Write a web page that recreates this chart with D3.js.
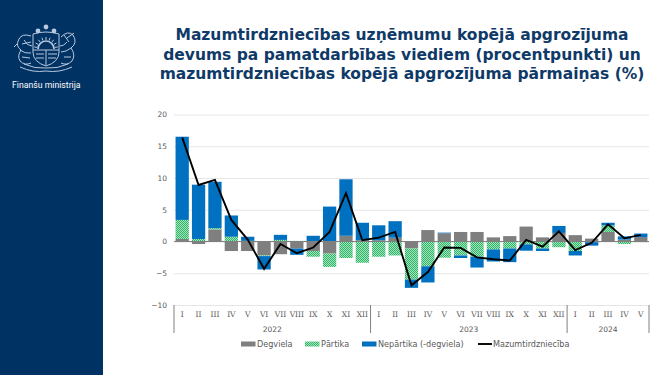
<!DOCTYPE html>
<html lang="lv">
<head>
<meta charset="UTF-8">
<title>Mazumtirdzniecība</title>
<script src="https://d3js.org/d3.v7.min.js"></script>
<style>
    html, body { margin: 0; padding: 0; background: #fff; }
    svg { display: block; }
    text { font-family: "DejaVu Sans", sans-serif; fill: #595959; }
    .title { font-weight: bold; font-size: 15.5px; fill: #0f3a68; text-anchor: middle; }
    .month { font-family: "DejaVu Serif", serif; font-size: 7.5px; text-anchor: middle; }
    .year { font-size: 7.5px; text-anchor: middle; }
    .legend { font-size: 8.1px; }
</style>
</head>
<body>
<svg id="chart" width="665" height="375"></svg>
<script>
    // values, Jan 2022 - May 2024
    const months = ["I","II","III","IV","V","VI","VII","VIII","IX","X","XI","XII",
                    "I","II","III","IV","V","VI","VII","VIII","IX","X","XI","XII",
                    "I","II","III","IV","V"];
    const years = [["2022", 12], ["2023", 12], ["2024", 5]];
    const degviela = [0.4,-0.4,1.9,-1.5,-1.5,-2.2,-2.0,-1.1,-1.5,-1.9,0.9,0.2,
                      0.2,0.6,-1.1,1.8,1.3,1.5,1.5,0.65,0.85,2.35,0.65,1.35,
                      1.0,0.45,1.5,0.3,0.7];
    const partika = [3.0,0.4,0.2,0.75,0.1,-0.1,0.25,0.1,-0.9,-2.1,-2.6,-3.35,
                     -2.4,-2.2,-4.9,-3.9,-2.55,-2.2,-2.4,-1.25,-1.1,-0.45,-1.1,-0.9,
                     -1.5,-0.1,1.05,-0.4,-0.1];
    const nepartika = [13.1,8.55,7.3,3.35,0.65,-2.1,0.8,-1.0,0.9,5.5,8.9,2.75,
                       2.35,2.6,-1.3,-2.55,0.1,-0.4,-1.7,-1.9,-2.15,-1.0,-0.4,1.1,
                       -0.7,-0.55,0.4,0.5,0.55];
    const mazumtirdznieciba = [16.4,8.9,9.7,3.4,0.3,-4.3,-0.4,-1.85,-0.95,1.5,7.6,0.2,
                               0.6,1.5,-6.9,-4.8,-0.95,-1.0,-2.5,-2.8,-3.0,0.25,-0.8,1.6,
                               -1.35,-0.2,2.7,0.5,1.05];
    const yTicks = [-10,-5,0,5,10,15,20];
    const titleLines = ["Mazumtirdzniecības uzņēmumu kopējā apgrozījuma",
                        "devums pa pamatdarbības viediem (procentpunkti) un",
                        "mazumtirdzniecības kopējā apgrozījuma pārmaiņas (%)"];

    const svg = d3.select("#chart");

    // dotted green fill for Pārtika
    let pat = svg.append("defs").append("pattern")
        .attr("id", "dots").attr("width", 2).attr("height", 2)
        .attr("patternUnits", "userSpaceOnUse");
    pat.append("rect").attr("width", 2).attr("height", 2).attr("fill", "#a6e6bd");
    pat.append("rect").attr("width", 1).attr("height", 1).attr("fill", "#2db368");
    pat.append("rect").attr("x", 1).attr("y", 1).attr("width", 1).attr("height", 1).attr("fill", "#2db368");

    // left panel
    svg.append("rect").attr("width", 103).attr("height", 375).attr("fill", "#003264");
    drawEmblem(svg.append("g"));
    svg.append("text").attr("x", 12).attr("y", 88)
        .style("font-family", "Roboto, sans-serif").style("font-size", "8.7px").style("fill", "#fff")
        .text("Finanšu ministrija");

    svg.selectAll(".title").data(titleLines).join("text")
        .attr("class", "title")
        .attr("x", 402)
        .attr("y", (d, i) => 40 + i * 19.5)
        .text(d => d);

    // scales
    const x = d3.scaleBand().domain(d3.range(months.length)).range([174, 649]).paddingInner(0.19).paddingOuter(0.095);
    const y = d3.scaleLinear().domain([-10, 20]).range([305, 114.5]);

    // y axis with gridlines
    svg.append("g").attr("transform", "translate(174,0)")
        .call(d3.axisLeft(y).tickValues(yTicks).tickSize(-475).tickPadding(7).tickFormat(d3.format("d")))
        .call(g => g.select(".domain").remove())
        .call(g => g.selectAll("line").attr("stroke", "#e6e6e6"))
        .call(g => g.selectAll("text").style("font-size", "7.5px").style("fill", "#595959"));

    // stacked bars
    const rows = months.map((m, i) => ({ i: i, Degviela: degviela[i], Partika: partika[i], Nepartika: nepartika[i] }));
    const keys = ["Degviela", "Partika", "Nepartika"];
    const fills = { Degviela: "#7f7f7f", Partika: "url(#dots)", Nepartika: "#0070c0" };
    const series = d3.stack().keys(keys).offset(d3.stackOffsetDiverging)(rows);

    svg.selectAll(".serie").data(series).join("g")
        .attr("class", "serie")
        .attr("fill", d => fills[d.key])
        .selectAll("rect").data(d => d).join("rect")
        .attr("x", d => x(d.data.i))
        .attr("width", x.bandwidth())
        .attr("y", d => y(Math.max(d[0], d[1])))
        .attr("height", d => Math.abs(y(d[0]) - y(d[1])));

    // zero line
    svg.append("line").attr("x1", 174).attr("x2", 649).attr("y1", y(0)).attr("y2", y(0))
        .attr("stroke", "#808080").attr("stroke-width", 1);

    // total line
    const line = d3.line().x((d, i) => x(i) + x.bandwidth() / 2).y(d => y(d));
    svg.append("path").datum(mazumtirdznieciba)
        .attr("d", line).attr("fill", "none").attr("stroke", "#000").attr("stroke-width", 1.9);

    // two-level x axis
    svg.selectAll(".month").data(months).join("text")
        .attr("class", "month")
        .attr("x", (d, i) => x(i) + x.bandwidth() / 2)
        .attr("y", 317)
        .text(d => d);

    let start = 0;
    const edge = n => 174 + n * 475 / months.length;
    svg.append("line").attr("x1", edge(0)).attr("x2", edge(0)).attr("y1", 305).attr("y2", 333).attr("stroke", "#808080");
    years.forEach(([label, n]) => {
        svg.append("text").attr("class", "year")
            .attr("x", (edge(start) + edge(start + n)) / 2).attr("y", 332).text(label);
        start += n;
        svg.append("line").attr("x1", edge(start)).attr("x2", edge(start)).attr("y1", 305).attr("y2", 333).attr("stroke", "#808080");
    });

    // legend
    const legendItems = [["Degviela", 241, 257, fills.Degviela], ["Pārtika", 305, 321, fills.Partika],
                         ["Nepārtika (-degviela)", 362, 378, fills.Nepartika]];
    legendItems.forEach(([label, sx, tx, f]) => {
        svg.append("rect").attr("x", sx).attr("y", 341.5).attr("width", 14.5).attr("height", 5).attr("fill", f);
        svg.append("text").attr("class", "legend").attr("x", tx).attr("y", 347).text(label);
    });
    svg.append("line").attr("x1", 478).attr("x2", 492).attr("y1", 344).attr("y2", 344)
        .attr("stroke", "#000").attr("stroke-width", 1.9);
    svg.append("text").attr("class", "legend").attr("x", 493).attr("y", 347).text("Mazumtirdzniecība");

    // rough outline of the coat of arms
    function drawEmblem(g) {
        g.attr("fill", "none").attr("stroke", "#b9c8dc").attr("stroke-width", 1);
        // shield
        g.append("path").attr("d", "M33 34 Q46 30 59 34 L59 52 Q59 62 46 66 Q33 62 33 52 Z");
        g.append("path").attr("d", "M33 50 L59 50 M46 50 L46 65 M36 54 L44 54 M36 58 L44 58 M48 54 L57 54 M48 58 L56 58");
        // sun and rays
        g.append("path").attr("d", "M38 49 A8 8 0 0 1 54 49").attr("stroke-width", 1.6);
        d3.range(9).forEach(i => {
            const a = Math.PI * (i + 0.5) / 9;
            g.append("path").attr("d", "M" + (46 - 9 * Math.cos(a)) + " " + (49 - 9 * Math.sin(a)) +
                " L" + (46 - 12 * Math.cos(a)) + " " + (49 - 12 * Math.sin(a)));
        });
        // stars
        [[38, 31], [46, 27], [54, 31]].forEach(p => {
            g.append("circle").attr("cx", p[0]).attr("cy", p[1]).attr("r", 2.4).attr("fill", "#b9c8dc").attr("stroke", "none");
        });
        // griffin and lion
        g.append("path").attr("d", "M31 36 Q22 33 19 39 Q15 46 21 50 Q17 56 20 61 Q25 66 31 63 M24 40 Q27 46 32 46 M20 50 Q25 54 31 53 M17 44 L14 47 M22 44 L31 42 M22 57 L30 58");
        g.append("path").attr("d", "M61 37 Q68 30 73 35 Q78 43 71 48 Q76 55 72 61 Q67 66 61 63 M67 38 L74 33 M71 48 Q66 52 61 52 M67 42 Q64 46 60 46 M64 35 L69 42 M64 57 L71 57");
        // ribbon and branches
        g.append("path").attr("d", "M20 67 Q33 73 46 71 Q59 73 72 67 M24 64 Q35 69 46 68 Q57 69 68 64");
    }
</script>
</body>
</html>
